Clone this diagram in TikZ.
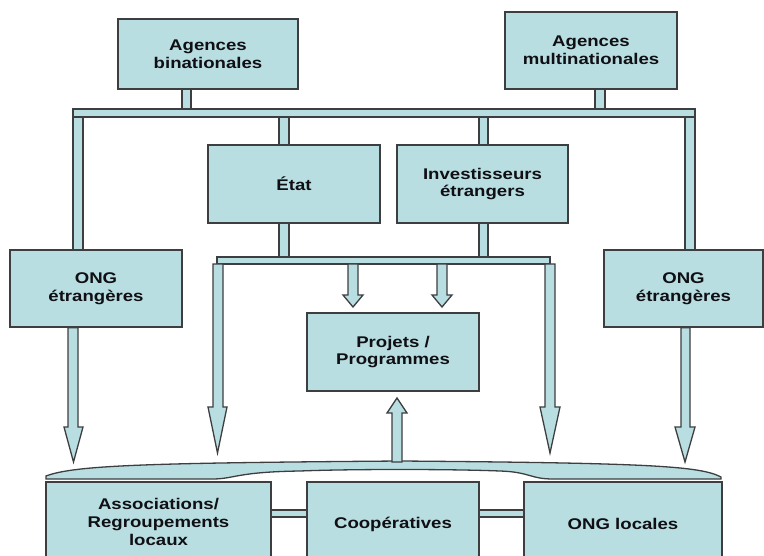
\documentclass[tikz,border=0pt]{standalone}
\usepackage{fontspec}
\setmainfont{Liberation Sans}[FakeStretch=1.2]
\usetikzlibrary{calc}
\definecolor{boxfill}{RGB}{185,222,225}
\definecolor{boxline}{RGB}{60,62,64}
\definecolor{txt}{RGB}{15,15,20}
\tikzset{
  blk/.style={draw=boxline, fill=boxfill, line width=1.3pt, line join=miter},
  box/.style={blk, rectangle, inner sep=0pt, align=center, text=txt,
    font=\bfseries\fontsize{15.5}{17.8}\selectfont},
}
% box: name, x1, x2, y1, y2, text
\newcommand{\mybox}[6]{%
  \node[box, minimum width={#3-#2}, minimum height={#5-#4}] (#1) at ({(#2+#3)/2},{(#4+#5)/2}) {#6};}
% vertical block connector: x1, x2, from (y), to (y)
\newcommand{\vconn}[4]{\path[blk] (#1,0 |- #3) rectangle (#2,0 |- #4);}
% down block arrow: shaft x1 x2, head x1 x2, from, head base y, tip y
\newcommand{\darrow}[7]{%
  \path[blk] (#1,0 |- #5) -- (#1,#6) -- (#3,#6) -- ({(#3+#4)/2},#7) -- (#4,#6) -- (#2,#6) -- (#2,0 |- #5) -- cycle;}
\begin{document}
\begin{tikzpicture}[x=1pt,y=-1pt]
\useasboundingbox (0,0) rectangle (764,556);
\clip (0,0) rectangle (764,556);

% boxes
\mybox{ab}{118}{298}{19}{89}{Agences\\binationales}
\mybox{am}{505}{677}{12}{89}{Agences\\multinationales}
\mybox{etat}{208}{380}{145}{223}{État}
\mybox{inv}{397}{568}{145}{223}{Investisseurs\\étrangers}
\mybox{ongL}{10}{182}{250}{327}{ONG\\étrangères}
\mybox{ongR}{604}{763}{250}{327}{ONG\\étrangères}
\mybox{proj}{307}{479}{313}{391}{Projets /\\Programmes}
\mybox{assoc}{46}{271}{482}{562}{Associations/\\Regroupements\\locaux}
\mybox{coop}{307}{479}{482}{566}{Coopératives}
\mybox{ongloc}{524}{722}{482}{566}{ONG locales}

% top distribution bar
\coordinate (bar1t) at (73,109);
\coordinate (bar1b) at (695,117);
\path[blk] (bar1t) rectangle (bar1b);
\vconn{182}{191}{ab.south}{bar1t}
\vconn{595}{605}{am.south}{bar1t}
\vconn{73}{83}{bar1b}{ongL.north}
\vconn{685}{695}{bar1b}{ongR.north}
\vconn{279}{289}{bar1b}{etat.north}
\vconn{479}{488}{bar1b}{inv.north}

% second bar
\coordinate (bar2t) at (217,257);
\coordinate (bar2b) at (550,264);
\vconn{279}{289}{etat.south}{bar2t}
\vconn{479}{488}{inv.south}{bar2t}
\path[blk] (bar2t) rectangle (bar2b);

% brace over the local actors
\path[blk] (46,476) .. controls (75,465) and (150,463) .. (400,461)
  .. controls (650,463) and (700,466) .. (721,477) -- (721,479) -- (553,479)
  .. controls (530,479) and (530,472) .. (500,471)
  .. controls (450,469) and (350,469) .. (300,471)
  .. controls (235,472) and (235,479) .. (212,479) -- (46,479) -- cycle;
\coordinate (bracetop) at (397,462);

% arrows
\darrow{68}{78}{64}{83}{ongL.south}{427}{462}
\darrow{681}{690}{675}{695}{ongR.south}{427}{462}
\darrow{213}{223}{208}{227}{bar2b}{407}{453}
\darrow{545}{555}{540}{560}{bar2b}{407}{453}
\darrow{348}{358}{343}{363}{bar2b}{295}{307}
\darrow{437}{447}{432}{452}{bar2b}{295}{307}
% up arrow from brace to projects
\path[blk] (392,0 |- bracetop) -- (392,413) -- (387,413) -- (397,398) -- (407,413) -- (402,413) -- (402,0 |- bracetop) -- cycle;

% links between local actors
\path[blk] (assoc.east |- 0,510) rectangle (coop.west |- 0,517);
\path[blk] (coop.east |- 0,510) rectangle (ongloc.west |- 0,517);
\end{tikzpicture}
\end{document}
